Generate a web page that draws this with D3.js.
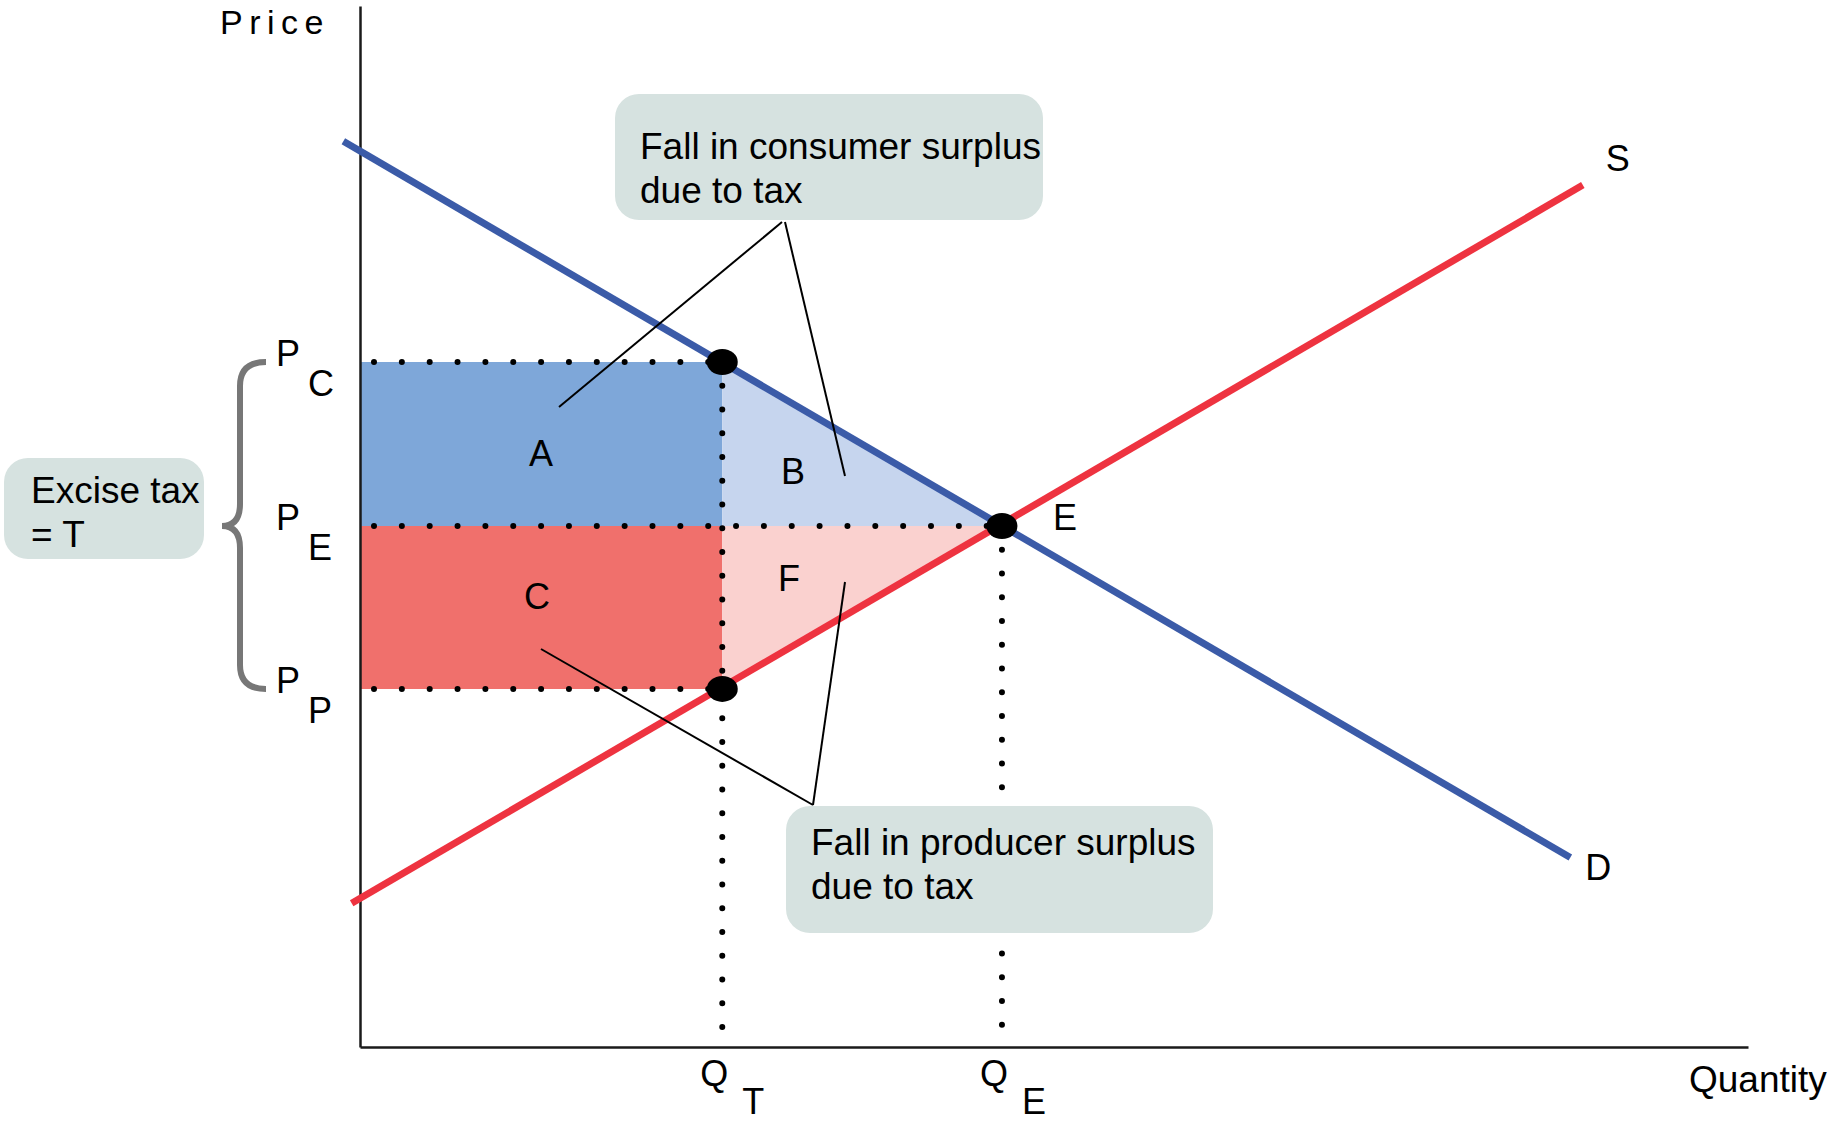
<!DOCTYPE html>
<html>
<head>
<meta charset="utf-8">
<script src="https://cdn.jsdelivr.net/npm/d3@7"></script>
<style>
	body { margin: 0; background: #fff; }
	text { font-family: "Liberation Sans", Arial, sans-serif; fill: #000; }
</style>
</head>
<body>
<div id="chart"></div>
<script>
(function() {
	"use strict";

	// chart values (quantity 0-100, price 0-100)
	var demandLine = [[-1.2, 87.0], [87.2, 18.2]],
		supplyLine = [[-0.6, 13.8], [88.1, 82.8]],
		priceNames = ["C", "E", "P"],
		priceLevels = [65.8, 50.05, 34.4],
		quantityNames = ["T", "E"],
		quantityLevels = [26.1, 46.25],
		areaNames = ["A", "B", "C", "F"];

	var chartWidth = 1829,
		chartHeight = 1121,
		plot = { left: 360, right: 1748, top: 6, bottom: 1047 },
		blue = "#3b5ba8",
		red = "#ee3340",
		boxFill = "#d6e2e0";

	var x = d3.scaleLinear().domain([0, 100]).range([plot.left, plot.right]),
		y = d3.scaleLinear().domain([0, 100]).range([plot.bottom, plot.top]);

	var pC = priceLevels[0], pE = priceLevels[1], pP = priceLevels[2],
		qT = quantityLevels[0], qE = quantityLevels[1];

	var svg = d3.select("#chart")
		.append("svg")
		.attr("width", chartWidth)
		.attr("height", chartHeight);

	var line = d3.line()
		.x(function(d) { return x(d[0]); })
		.y(function(d) { return y(d[1]); });

	// shaded areas
	var areas = [
		{ fill: "#7ea7d9", pts: [[0, pC], [qT, pC], [qT, pE], [0, pE]] },
		{ fill: "#c6d5ee", pts: [[qT, pC], [qE, pE], [qT, pE]] },
		{ fill: "#f0706c", pts: [[0, pE], [qT, pE], [qT, pP], [0, pP]] },
		{ fill: "#fad1cf", pts: [[qT, pE], [qE, pE], [qT, pP]] }
	];
	svg.append("g")
		.selectAll("path")
		.data(areas)
		.enter()
		.append("path")
		.attr("d", function(d) { return line(d.pts) + "Z"; })
		.style("fill", function(d) { return d.fill; });

	// axes (no ticks)
	var xAxis = d3.axisBottom(x).tickValues([]).tickSizeOuter(0),
		yAxis = d3.axisLeft(y).tickValues([]).tickSizeOuter(0);
	svg.append("g")
		.attr("transform", "translate(0," + plot.bottom + ")")
		.call(xAxis)
		.select(".domain")
		.attr("stroke", "#1a1a1a")
		.attr("stroke-width", 2.5);
	svg.append("g")
		.attr("transform", "translate(" + plot.left + ",0)")
		.call(yAxis)
		.select(".domain")
		.attr("stroke", "#1a1a1a")
		.attr("stroke-width", 2.5);

	// dotted guides
	var dotted = svg.append("g")
		.attr("stroke", "#000")
		.attr("stroke-width", 6)
		.attr("stroke-linecap", "round")
		.attr("fill", "none");
	var hGuides = [[pC, qT], [pE, qE], [pP, qT]];
	hGuides.forEach(function(g) {
		dotted.append("line")
			.attr("x1", x(0) + 14)
			.attr("x2", x(g[1]) - 12)
			.attr("y1", y(g[0]))
			.attr("y2", y(g[0]))
			.attr("stroke-dasharray", "0 27.85");
	});
	var vGuides = [[qT, pC], [qE, pE]];
	vGuides.forEach(function(g) {
		dotted.append("line")
			.attr("x1", x(g[0]))
			.attr("x2", x(g[0]))
			.attr("y1", y(g[1]))
			.attr("y2", plot.bottom - 18)
			.attr("stroke-dasharray", "0 23.75");
	});

	// demand and supply
	svg.append("path")
		.attr("d", line(demandLine))
		.attr("stroke", blue)
		.attr("stroke-width", 7)
		.attr("fill", "none");
	svg.append("path")
		.attr("d", line(supplyLine))
		.attr("stroke", red)
		.attr("stroke-width", 7)
		.attr("fill", "none");

	// pointer lines
	var pointers = svg.append("g")
		.attr("stroke", "#000")
		.attr("stroke-width", 2)
		.attr("fill", "none");
	[[[782, 222], [559, 407]], [[785, 222], [845, 476]],
	 [[813, 805], [541, 649]], [[813, 805], [845, 582]]].forEach(function(p) {
		pointers.append("line")
			.attr("x1", p[0][0]).attr("y1", p[0][1])
			.attr("x2", p[1][0]).attr("y2", p[1][1]);
	});

	// callout boxes
	var boxes = [
		{ x: 615, y: 94, w: 428, h: 126, lines: ["Fall in consumer surplus", "due to tax"], tx: 640, ty: 159 },
		{ x: 786, y: 806, w: 427, h: 127, lines: ["Fall in producer surplus", "due to tax"], tx: 811, ty: 855 },
		{ x: 4, y: 458, w: 200, h: 101, lines: ["Excise tax", "= T"], tx: 31, ty: 503 }
	];
	boxes.forEach(function(b) {
		svg.append("rect")
			.attr("x", b.x)
			.attr("y", b.y)
			.attr("width", b.w)
			.attr("height", b.h)
			.attr("rx", 24)
			.attr("ry", 24)
			.style("fill", boxFill);
		b.lines.forEach(function(t, i) {
			svg.append("text")
				.attr("x", b.tx)
				.attr("y", b.ty + i * 44)
				.style("font-size", "37px")
				.text(t);
		});
	});

	// intersection points
	svg.append("g")
		.selectAll("ellipse")
		.data([[qT, pC], [qE, pE], [qT, pP]])
		.enter()
		.append("ellipse")
		.attr("cx", function(d) { return x(d[0]); })
		.attr("cy", function(d) { return y(d[1]); })
		.attr("rx", 15.5)
		.attr("ry", 13)
		.style("fill", "#000");

	// brace for the tax
	var yC = y(pC), yE = y(pE), yP = y(pP);
	svg.append("path")
		.attr("d", "M 266," + yC + " Q 240," + yC + " 240," + (yC + 24) +
			" L 240," + (yE - 22) + " Q 240," + yE + " 222," + yE +
			" Q 240," + yE + " 240," + (yE + 22) +
			" L 240," + (yP - 24) + " Q 240," + yP + " 266," + yP)
		.attr("stroke", "#777")
		.attr("stroke-width", 6)
		.attr("fill", "none");

	// price labels with subscripts
	priceLevels.forEach(function(p, i) {
		var t = svg.append("text")
			.attr("x", 276)
			.attr("y", y(p) + 4)
			.style("font-size", "36px");
		t.append("tspan").text("P");
		t.append("tspan").attr("dx", 8).attr("dy", 30).text(priceNames[i]);
	});

	// quantity labels with subscripts
	quantityLevels.forEach(function(q, i) {
		var t = svg.append("text")
			.attr("x", x(q) - 22)
			.attr("y", 1086)
			.style("font-size", "36px");
		t.append("tspan").text("Q");
		t.append("tspan").attr("dx", 14).attr("dy", 28).text(quantityNames[i]);
	});

	// area letters
	var areaPos = [[541, 466], [793, 484], [537, 609], [789, 591]];
	areaNames.forEach(function(n, i) {
		svg.append("text")
			.attr("x", areaPos[i][0])
			.attr("y", areaPos[i][1])
			.attr("text-anchor", "middle")
			.style("font-size", "36px")
			.text(n);
	});

	// curve and point labels
	svg.append("text").attr("x", x(qE) + 51).attr("y", y(pE) + 4)
		.style("font-size", "36px").text("E");
	svg.append("text").attr("x", x(supplyLine[1][0]) + 23).attr("y", 171)
		.style("font-size", "36px").text("S");
	svg.append("text").attr("x", x(demandLine[1][0]) + 15).attr("y", 880)
		.style("font-size", "36px").text("D");

	// axis titles
	svg.append("text")
		.attr("x", 220)
		.attr("y", 34)
		.style("font-size", "34px")
		.style("letter-spacing", "6.5px")
		.text("Price");
	svg.append("text")
		.attr("x", 1689)
		.attr("y", 1092)
		.style("font-size", "37px")
		.text("Quantity");
})();
</script>
</body>
</html>
